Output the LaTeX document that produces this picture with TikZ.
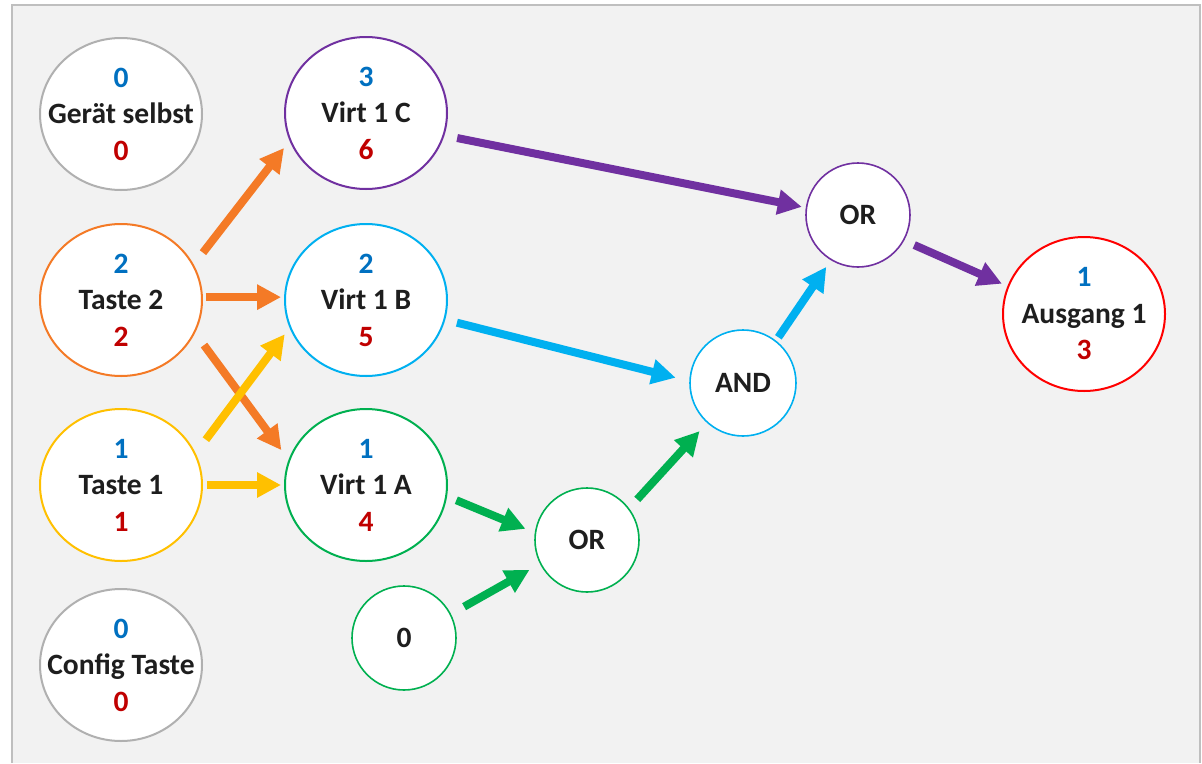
\documentclass[tikz,border=0pt]{standalone}
\usepackage{fontspec}
\setmainfont{Carlito}
\usetikzlibrary{arrows.meta,shapes.geometric}

\definecolor{bgfill}{HTML}{F2F2F2}
\definecolor{framegray}{HTML}{BFBFBF}
\definecolor{ringgray}{HTML}{B0B0B0}
\definecolor{corange}{HTML}{F47A26}
\definecolor{cyellow}{HTML}{FFC000}
\definecolor{cpurple}{HTML}{7030A0}
\definecolor{ccyan}{HTML}{00B0F0}
\definecolor{cgreen}{HTML}{00B050}
\definecolor{cred}{HTML}{FF0000}
\definecolor{numblue}{HTML}{0070C0}
\definecolor{numred}{HTML}{C00000}
\definecolor{txtblack}{HTML}{1E1E1E}

\begin{document}
\begin{tikzpicture}[x=1pt,y=-1pt,
  txtfont/.style={font=\fontsize{29.5}{36.5}\selectfont\bfseries},
  bigc/.style={ellipse, draw=#1, line width=2pt, fill=white,
    minimum width=162pt, minimum height=152pt, inner sep=0pt},
  smallc/.style={circle, draw=#1, line width=1.6pt, fill=white,
    minimum size=104pt, inner sep=0pt, txtfont, text=txtblack},
  txt/.style={align=center, txtfont, text=txtblack, inner sep=0pt},
  arr/.style={draw=#1, line width=8pt, -{Triangle[length=24pt,width=24pt]}}
]
\useasboundingbox (0,0) rectangle (1202,763);

% panel background and its frame
\fill[bgfill] (12,5) rectangle (1200,763);
\draw[framegray, line width=2pt] (12,763) -- (12,5) -- (1200,5) -- (1200,763);

% inputs
\node[bigc=ringgray, label={[txt]center:{\textcolor{numblue}{0}\\Gerät selbst\\\textcolor{numred}{0}}}] (gs) at (121,114) {};
\node[bigc=corange, label={[txt]center:{\textcolor{numblue}{2}\\Taste 2\\\textcolor{numred}{2}}}] (t2) at (121,300) {};
\node[bigc=cyellow, label={[txt]center:{\textcolor{numblue}{1}\\Taste 1\\\textcolor{numred}{1}}}] (t1) at (121,485) {};
\node[bigc=ringgray, label={[txt]center:{\textcolor{numblue}{0}\\Config Taste\\\textcolor{numred}{0}}}] (ct) at (121,665) {};

% virtual channels
\node[bigc=cpurple, label={[txt]center:{\textcolor{numblue}{3}\\Virt 1 C\\\textcolor{numred}{6}}}] (v1c) at (366,113) {};
\node[bigc=ccyan, label={[txt]center:{\textcolor{numblue}{2}\\Virt 1 B\\\textcolor{numred}{5}}}] (v1b) at (366,300) {};
\node[bigc=cgreen, label={[txt]center:{\textcolor{numblue}{1}\\Virt 1 A\\\textcolor{numred}{4}}}] (v1a) at (366,485) {};

% logic gates
\node[smallc=cgreen] (zero) at (404,638) {0};
\node[smallc=cgreen] (orA) at (587,540) {OR};
\node[smallc=ccyan, minimum size=106pt] (and) at (743,383) {AND};
\node[smallc=cpurple] (orB) at (858,215) {OR};

% output
\node[bigc=cred, minimum height=154pt, label={[txt]center:{\textcolor{numblue}{1}\\Ausgang 1\\\textcolor{numred}{3}}}] (out) at (1084,314) {};

% connections
\draw[arr=corange, shorten <=15pt, shorten >=9pt] (t2.26) -- (v1c.200);
\draw[arr=corange, shorten <=3pt, shorten >=3pt] (t2.2) -- (v1b.178);
\draw[arr=corange, shorten <=15pt, shorten >=12pt] (t2.-24) -- (v1a.162);
\draw[arr=cyellow, shorten <=17pt, shorten >=8pt] (t1.23) -- (v1b.200);
\draw[arr=cyellow, shorten <=4pt, shorten >=3pt] (t1.0) -- (v1a.180);
\draw[arr=cpurple, shorten <=13pt, shorten >=4pt] (v1c.-16) -- (orB.172);
\draw[arr=ccyan, shorten <=12pt, shorten >=14pt] (v1b.-14) -- (and.178);
\draw[arr=cgreen, shorten <=10pt, shorten >=10pt] (v1a.-8) -- (orA.172);
\draw[arr=cgreen, shorten <=15pt, shorten >=12pt] (zero.27) -- (orA.207);
\draw[arr=cgreen, shorten <=12pt, shorten >=11pt] (orA.37) -- (and.228);
\draw[arr=ccyan, shorten <=4pt, shorten >=8pt] (and.52) -- (orB.239);
\draw[arr=cpurple, shorten <=11pt, shorten >=6pt] (orB.-29) -- (out.160);
\end{tikzpicture}
\end{document}
